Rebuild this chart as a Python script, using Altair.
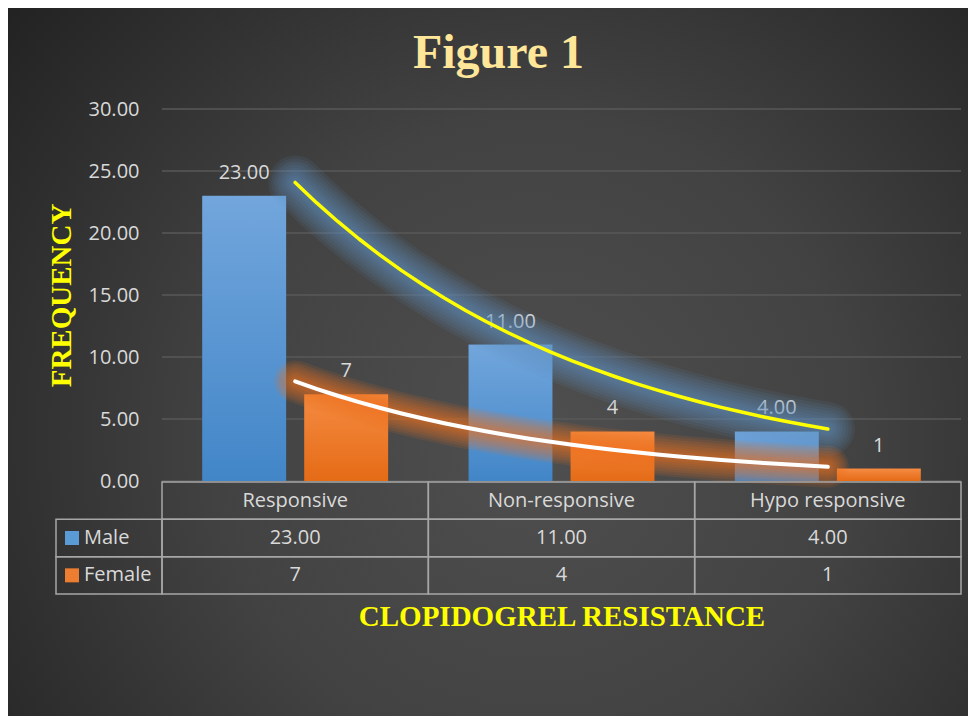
import altair as alt
import pandas as pd

categories = ["Responsive", "Non-responsive", "Hypo responsive"]
series = ["Male", "Female"]
male_values = [23, 11, 4]
female_values = [7, 4, 1]
y_ticks = [0, 5, 10, 15, 20, 25, 30]
table_rows = ["header", "Male", "Female"]

W, H = 799, 372
FONT = "Open Sans"
SERIF = "Liberation Serif"
TXT = "#D9D9D9"
LINEC = "#A6A6A6"

records = []
for i, cat in enumerate(categories):
    records.append({"cat": cat, "idx": i + 1, "sex": "Male", "value": male_values[i]})
    records.append({"cat": cat, "idx": i + 1, "sex": "Female", "value": female_values[i]})
df = pd.DataFrame(records)
cats_df = pd.DataFrame({"cat": categories, "row": ["header"] * len(categories)})
legend_df = pd.DataFrame({"sex": series})
ticks_df = pd.DataFrame({"tick": y_ticks})
one_df = pd.DataFrame({"k": [0]})

label_expr = "datum.sex == 'Male' ? format(datum.value, '.2f') : format(datum.value, 'd')"

x_band = alt.Scale(domain=categories, paddingInner=0, paddingOuter=0)
x_off = alt.Scale(domain=series, paddingInner=0.1765, paddingOuter=0.3938)
y_lin = alt.Scale(domain=[0, 30], nice=False, zero=True)
x_lin = alt.Scale(domain=[0.5, 3.5], nice=False, zero=False)
y_tab = alt.Scale(domain=table_rows, range=[H + 1, H + 113], paddingInner=0, paddingOuter=0)

radial = {
    "gradient": "radial", "x1": 0.55, "y1": 0.58, "r1": 0,
    "x2": 0.55, "y2": 0.58, "r2": 0.75,
    "stops": [
        {"offset": 0, "color": "#4f4f4f"},
        {"offset": 0.45, "color": "#424242"},
        {"offset": 1, "color": "#1f1f1f"},
    ],
}
bg = alt.Chart(one_df).mark_rect(fill=radial).encode(
    x=alt.value(-154), x2=alt.value(W + 7), y=alt.value(-101), y2=alt.value(H + 235)
)

grid = alt.Chart(ticks_df).mark_rule(color="#585858", strokeWidth=1.3).encode(
    y=alt.Y(
        "tick:Q", scale=y_lin,
        axis=alt.Axis(
            values=y_ticks, format=".2f", grid=False, ticks=False, domain=False,
            labelPadding=23, labelFont=FONT, labelFontSize=20, labelColor=TXT,
            title="FREQUENCY", titleFont=SERIF, titleFontSize=29, titleFontWeight="bold",
            titleColor="#FFFF00", titlePadding=12, zindex=1,
        ),
    )
)


def grad(top, bottom):
    return {
        "gradient": "linear", "x1": 0, "y1": 0, "x2": 0, "y2": 1,
        "stops": [{"offset": 0, "color": top}, {"offset": 1, "color": bottom}],
    }


x_title_axis = alt.Axis(
    labels=False, ticks=False, domain=False, title="CLOPIDOGREL RESISTANCE",
    titleFont=SERIF, titleFontSize=29, titleFontWeight="bold", titleColor="#FFFF00",
    titlePadding=121, zindex=1,
)


def bar_layer(sex, fill, x_axis):
    return alt.Chart(df).transform_filter(alt.datum.sex == sex).mark_bar(fill=fill).encode(
        x=alt.X("cat:N", scale=x_band, sort=categories, axis=x_axis),
        xOffset=alt.XOffset("sex:N", scale=x_off, sort=series),
        y=alt.Y("value:Q", scale=y_lin, axis=None),
    )


def shadow_layer(sex):
    return alt.Chart(df).transform_filter(alt.datum.sex == sex).mark_bar(
        fill="#000000", opacity=0.18, dx=5
    ).encode(
        x=alt.X("cat:N", scale=x_band, sort=categories, axis=None),
        xOffset=alt.XOffset("sex:N", scale=x_off, sort=series),
        y=alt.Y("value:Q", scale=y_lin, axis=None),
    )


male_bars = bar_layer("Male", grad("#72A6DC", "#4286C8"), x_title_axis)
female_bars = bar_layer("Female", grad("#F58B42", "#E56B16"), None)

labels = alt.Chart(df).transform_calculate(label=label_expr).mark_text(
    dy=-17, baseline="alphabetic", font=FONT, fontSize=20, color=TXT
).encode(
    x=alt.X("cat:N", scale=x_band, sort=categories, axis=None),
    xOffset=alt.XOffset("sex:N", scale=x_off, sort=series),
    y=alt.Y("value:Q", scale=y_lin, axis=None),
    text="label:N",
)

trend_src = alt.Chart(df).transform_calculate(
    logv="log(datum.value)"
).transform_regression(
    "idx", "logv", groupby=["sex"], method="poly", order=1, extent=[1, 3]
).transform_calculate(fit="exp(datum.logv)")


def trend(sex, color, width, opacity):
    return trend_src.transform_filter(alt.datum.sex == sex).mark_line(
        color=color, strokeWidth=width, opacity=opacity, strokeCap="round", strokeJoin="round"
    ).encode(
        x=alt.X("idx:Q", scale=x_lin, axis=None),
        y=alt.Y("fit:Q", scale=y_lin, axis=None),
    )


trend_layers = []
for w in [54, 48, 42, 36, 30, 24, 19, 14, 9]:
    trend_layers.append(trend("Male", "#6390C2", w, 0.1))
for w in [42, 37, 32, 27, 22, 17, 13, 9]:
    trend_layers.append(trend("Female", "#EC761F", w, 0.12))
trend_layers.append(trend("Male", "#FFFF00", 3.5, 1))
trend_layers.append(trend("Female", "#FFFFFF", 4, 1))

cell = dict(fillOpacity=0, stroke=LINEC, strokeWidth=1.5)
tx = alt.X("cat:N", scale=x_band, sort=categories, axis=None)

head_cells = alt.Chart(cats_df).mark_rect(**cell).encode(
    x=tx, y=alt.Y("row:N", scale=y_tab, axis=None)
)
head_text = alt.Chart(cats_df).mark_text(font=FONT, fontSize=20, color=TXT).encode(
    x=tx, y=alt.Y("row:N", scale=y_tab, axis=None), text="cat:N"
)
data_cells = alt.Chart(df).mark_rect(**cell).encode(
    x=tx, y=alt.Y("sex:N", scale=y_tab, axis=None)
)
data_text = alt.Chart(df).transform_calculate(label=label_expr).mark_text(
    font=FONT, fontSize=20, color=TXT
).encode(x=tx, y=alt.Y("sex:N", scale=y_tab, axis=None), text="label:N")
left_cells = alt.Chart(legend_df).mark_rect(**cell).encode(
    x=alt.value(-106), x2=alt.value(0), y=alt.Y("sex:N", scale=y_tab, axis=None)
)
squares = alt.Chart(legend_df).mark_square(size=196, opacity=1).encode(
    x=alt.value(-90),
    y=alt.Y("sex:N", scale=y_tab, axis=None),
    color=alt.Color("sex:N", scale=alt.Scale(domain=series, range=["#5B9BD5", "#ED7D31"]), legend=None),
)
legend_text = alt.Chart(legend_df).mark_text(align="left", font=FONT, fontSize=20, color=TXT).encode(
    x=alt.value(-78), y=alt.Y("sex:N", scale=y_tab, axis=None), text="sex:N"
)
table = alt.layer(head_cells, head_text, data_cells, data_text, left_cells, squares, legend_text)

chart = alt.layer(
    bg, grid, shadow_layer("Male"), shadow_layer("Female"), male_bars, female_bars,
    labels, *trend_layers, table
).resolve_scale(
    x="independent", y="independent"
).properties(
    width=W, height=H, padding=0,
    title=alt.TitleParams(
        "Figure 1", font=SERIF, fontSize=48, fontWeight="bold", color="#FFE699",
        anchor="middle", frame="group", dx=-63, offset=-108, baseline="alphabetic",
    ),
).configure(background="#2b2b2b").configure_view(stroke=None)

chart.save("out.html", embed_options={"renderer": "svg", "actions": False})
